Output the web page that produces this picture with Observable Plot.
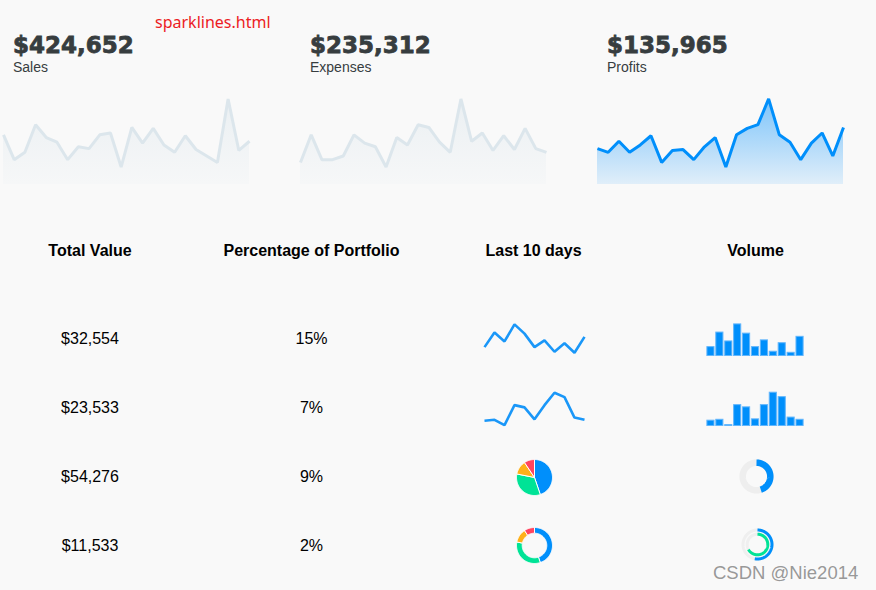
<!DOCTYPE html>
<html>
<head>
<meta charset="utf-8">
<script src="https://cdn.jsdelivr.net/npm/d3@7"></script>
<script src="https://cdn.jsdelivr.net/npm/@observablehq/plot@0.6"></script>
<style>
  html, body { margin: 0; padding: 0; background: #f9f9f9; }
  #page { position: relative; width: 876px; height: 590px; overflow: hidden; background: #f9f9f9; }
  .abs { position: absolute; }
  .kpi { position: absolute; font-family: "DejaVu Sans", sans-serif; font-weight: bold; font-size: 23px; line-height: 23px; color: #373d3f; white-space: nowrap; -webkit-text-stroke: 0.8px #373d3f; }
  .kpisub { position: absolute; font-family: "Liberation Sans", Arial, sans-serif; font-size: 14px; line-height: 14px; color: #373d3f; white-space: nowrap; }
  .th { position: absolute; width: 240px; text-align: center; font-family: "Liberation Sans", Arial, sans-serif; font-weight: bold; font-size: 16px; line-height: 16px; color: #000; white-space: nowrap; }
  .td { position: absolute; width: 200px; text-align: center; font-family: "Liberation Sans", Arial, sans-serif; font-size: 16px; line-height: 16px; color: #000; white-space: nowrap; }
  .chart svg { display: block; }
</style>
</head>
<body>
<div id="page"></div>
<script>
// ---------- data ----------
const kpiValues = ["$424,652", "$235,312", "$135,965"];
const kpiLabels = ["Sales", "Expenses", "Profits"];
const salesData    = [54, 27, 35, 65, 51, 46, 27, 41, 39, 54, 56, 19, 62, 45, 61, 43, 35, 53, 38, 31, 24, 93, 37, 47];
const expensesData = [24, 54, 27, 27, 31, 54, 45, 41, 19, 51, 43, 65, 62, 46, 35, 93, 47, 56, 37, 53, 38, 61, 39, 35];
const profitsData  = [39, 35, 47, 35, 43, 53, 24, 37, 38, 27, 41, 51, 19, 54, 61, 65, 93, 54, 46, 27, 45, 56, 31, 62];

const tableHeaders = ["Total Value", "Percentage of Portfolio", "Last 10 days", "Volume"];
const totalValues  = ["$32,554", "$23,533", "$54,276", "$11,533"];
const percentages  = ["15%", "7%", "9%", "2%"];
const trendRow1 = [25, 66, 41, 89, 63, 25, 44, 12, 36, 9, 54];
const trendRow2 = [12, 14, 2, 47, 42, 15, 47, 75, 65, 19, 14];
const trendMax  = [100, 80];
const pieValues = [43, 32, 12, 9];
const pieColors = ["#008FFB", "#00E396", "#FEB019", "#FF4560"];
const radialRow3 = [45];
const radialRow4 = [53, 67];
const radialColors = ["#008FFB", "#00E396"];

// ---------- helpers ----------
const page = document.getElementById("page");
function place(node, left, top) {
  const d = document.createElement("div");
  d.className = "abs chart";
  d.style.left = left + "px";
  d.style.top = top + "px";
  d.appendChild(node);
  page.appendChild(d);
  return d;
}
function textDiv(cls, txt, left, top, extra) {
  const d = document.createElement("div");
  d.className = cls;
  d.textContent = txt;
  d.style.left = left + "px";
  d.style.top = top + "px";
  if (extra) Object.assign(d.style, extra);
  page.appendChild(d);
}
const baseStyle = {background: "transparent", overflow: "visible"};

function addGradient(svg, id, color, o0, o1) {
  const defs = d3.select(svg).insert("defs", ":first-child");
  const g = defs.append("linearGradient").attr("id", id).attr("x1", 0).attr("y1", 0).attr("x2", 0).attr("y2", 1);
  g.append("stop").attr("offset", "0%").attr("stop-color", color).attr("stop-opacity", o0);
  g.append("stop").attr("offset", "100%").attr("stop-color", color).attr("stop-opacity", o1);
}

function sparkArea(data, color, id) {
  const svg = Plot.plot({
    width: 246, height: 92, margin: 0, style: baseStyle,
    x: {domain: [0, data.length - 1], axis: null},
    y: {domain: [0, 100], axis: null},
    marks: [
      Plot.areaY(data, {x: (d, i) => i, y: d => d, fill: `url(#${id})`}),
      Plot.lineY(data, {x: (d, i) => i, y: d => d, stroke: color, strokeWidth: 3, strokeLinejoin: "miter", strokeLinecap: "butt"})
    ]
  });
  addGradient(svg, id, color, 0.5, 0.1);
  return svg;
}

// ---------- KPI cards ----------
const cards = [
  {data: salesData, color: "#DCE6EC"},
  {data: expensesData, color: "#DCE6EC"},
  {data: profitsData, color: "#008FFB"}
];
cards.forEach((c, i) => {
  const left = 3 + i * 297;
  textDiv("kpi", kpiValues[i], left + 10, 53 - 0.846 * 23);
  textDiv("kpisub", kpiLabels[i], left + 10, 71.5 - 0.8465 * 14);
  place(sparkArea(c.data, c.color, "grad" + i), left, 92);
});

// file name label
textDiv("abs", "sparklines.html", 155, 28.5 - 0.888 * 16,
  {fontFamily: "'Noto Sans', sans-serif", fontSize: "16px", lineHeight: "16px", color: "#ec1c24", whiteSpace: "nowrap"});

// ---------- table ----------
const colCenters = [90, 311.5, 533.5, 755.5];
tableHeaders.forEach((h, i) => textDiv("th", h, colCenters[i] - 120, 256.5 - 0.8465 * 16));
const rowBaselines = [345, 414, 483, 552];
totalValues.forEach((v, i) => textDiv("td", v, colCenters[0] - 100, rowBaselines[i] - 0.8465 * 16));
percentages.forEach((v, i) => textDiv("td", v, colCenters[1] - 100, rowBaselines[i] - 0.8465 * 16));

// Last 10 days lines
function trendLine(data, ymax) {
  return Plot.plot({
    width: 100, height: 35.5, margin: 0, style: baseStyle,
    x: {domain: [0, data.length - 1], axis: null},
    y: {domain: [0, ymax], axis: null},
    marks: [Plot.lineY(data, {x: (d, i) => i, y: d => d, stroke: "#1a97f8", strokeWidth: 2.6, strokeLinejoin: "miter", strokeLinecap: "butt"})]
  });
}
place(trendLine(trendRow1, trendMax[0]), 484, 320.4);
place(trendLine(trendRow2, trendMax[1]), 484, 389.5);

// Volume bars
function volumeBars(data, ymax) {
  return Plot.plot({
    width: 98, height: 35.5, margin: 0, style: baseStyle,
    x: {type: "band", domain: d3.range(data.length), paddingInner: 0.2, paddingOuter: 0.1, round: false, axis: null},
    y: {domain: [0, ymax], axis: null},
    marks: [Plot.barY(data, {x: (d, i) => i, y: d => d, fill: "#008FFB", stroke: "#62b6fc", strokeWidth: 1})]
  });
}
place(volumeBars(trendRow1, trendMax[0]), 706, 320.2);
place(volumeBars(trendRow2, trendMax[1]), 706, 389.5);

// ---------- round charts ----------
function arcPoints(a0, a1, r) {
  const n = Math.max(2, Math.ceil(Math.abs(a1 - a0) / (Math.PI / 90)));
  const pts = [];
  for (let k = 0; k <= n; k++) {
    const a = a0 + (a1 - a0) * k / n;
    pts.push({x: r * Math.sin(a), y: r * Math.cos(a)});
  }
  return pts;
}
function roundPlot(marks) {
  return Plot.plot({
    width: 44, height: 44, margin: 0, style: baseStyle,
    x: {domain: [-22, 22], axis: null},
    y: {domain: [-22, 22], axis: null},
    marks
  });
}
const arcs = d3.pie().sort(null).startAngle(0).endAngle(2 * Math.PI)(pieValues);

// pie
const pieMarks = arcs.map((a, i) => {
  const pts = [{x: 0, y: 0}, ...arcPoints(a.startAngle, a.endAngle, 18), {x: 0, y: 0}];
  return Plot.line(pts, {x: "x", y: "y", fill: pieColors[i], stroke: "#ffffff", strokeWidth: 1, strokeLinejoin: "round"});
});
place(roundPlot(pieMarks), 534 - 22, 476.5 - 22);

// donut
const donutMarks = arcs.map((a, i) => {
  const outer = arcPoints(a.startAngle, a.endAngle, 18);
  const inner = arcPoints(a.endAngle, a.startAngle, 12.3);
  const pts = [...outer, ...inner, outer[0]];
  return Plot.line(pts, {x: "x", y: "y", fill: pieColors[i], stroke: "#ffffff", strokeWidth: 1, strokeLinejoin: "round"});
});
place(roundPlot(donutMarks), 534 - 22, 545.3 - 22);

// radial bar row 3
const r3 = radialRow3.map(v => v / 100 * 2 * Math.PI);
place(roundPlot([
  Plot.line(arcPoints(0, 2 * Math.PI, 13.8), {x: "x", y: "y", stroke: "#eeeeee", strokeWidth: 6.5}),
  Plot.line(arcPoints(0, r3[0], 13.8), {x: "x", y: "y", stroke: radialColors[0], strokeWidth: 6.5, strokeLinecap: "butt"})
]), 756 - 22, 475.5 - 22);

// radial bar row 4
const radii4 = [14.5, 10.3];
const r4marks = [];
radialRow4.forEach((v, i) => {
  r4marks.push(Plot.line(arcPoints(0, 2 * Math.PI, radii4[i]), {x: "x", y: "y", stroke: "#efefef", strokeWidth: 3}));
});
radialRow4.forEach((v, i) => {
  r4marks.push(Plot.line(arcPoints(0, v / 100 * 2 * Math.PI, radii4[i]), {x: "x", y: "y", stroke: radialColors[i], strokeWidth: 3, strokeLinecap: "butt"}));
});
place(roundPlot(r4marks), 757 - 22, 544 - 22);

// watermark
textDiv("abs", "CSDN @Nie2014", 713, 580 - 0.8465 * 18.5,
  {fontFamily: "'Liberation Sans', Arial, sans-serif", fontSize: "18.5px", lineHeight: "18.5px", color: "rgba(140,140,140,0.9)", whiteSpace: "nowrap"});
</script>
</body>
</html>
